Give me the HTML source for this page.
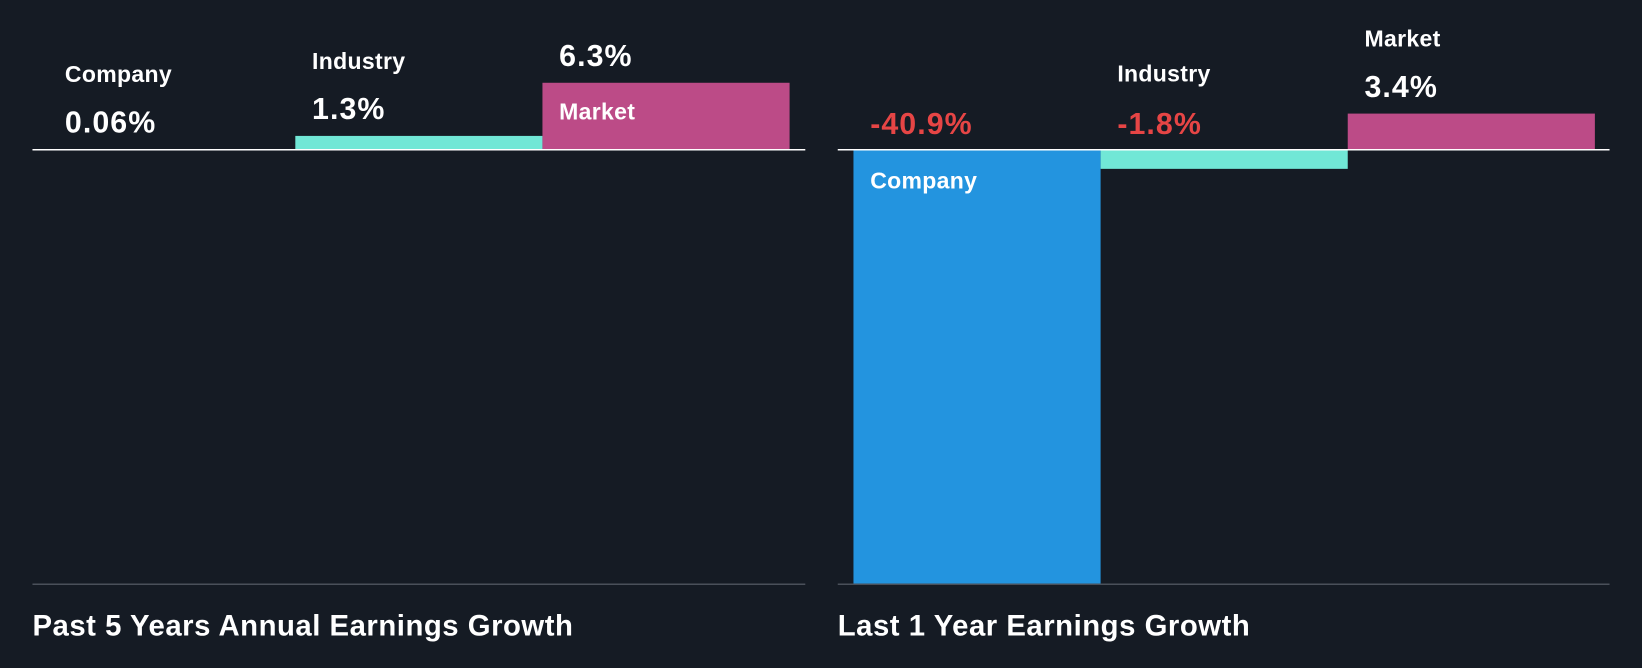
<!DOCTYPE html>
<html><head><meta charset="utf-8"><style>
html,body{margin:0;padding:0;background:#151b24;}
svg{display:block;font-family:"Liberation Sans",Arial,sans-serif;font-weight:bold;}
</style></head><body>
<svg id="chart" width="1642" height="668" viewBox="0 0 1568 638" preserveAspectRatio="none" xmlns="http://www.w3.org/2000/svg">
<rect x="0" y="0" width="1568" height="638" fill="#151b24"/>
</svg>
<script>
const categories = ["Company", "Industry", "Market"];
const past5Values = [0.06, 1.3, 6.3];
const last1Values = [-40.9, -1.8, 3.4];
const panelTitles = ["Past 5 Years Annual Earnings Growth", "Last 1 Year Earnings Growth"];
const colors = ["#2394df", "#71e7d6", "#bc4b87"];
const NS = "http://www.w3.org/2000/svg";
const svg = document.getElementById("chart");
function mk(tag, attrs, txt){const e=document.createElementNS(NS,tag);for(const k in attrs)e.setAttribute(k,attrs[k]);if(txt!==undefined)e.textContent=txt;svg.appendChild(e);return e;}
function fmt(v){return (Math.abs(v)<1&&v!==0?v.toFixed(2):v.toFixed(1))+"%";}
const baseY = 143, bottomY = 558, pxPer = 10.15;
function y(v){return baseY - v*pxPer;}
function drawPanel(pi, x0, x1, barX0, values){
  const barW = 236;
  values.forEach((v,i)=>{
    const bx = barX0 + i*barW;
    const top = Math.min(y(v), baseY), h = Math.max(Math.abs(y(v)-baseY), 1);
    const r = mk("rect",{x:bx,y:top,width:barW,height:h,fill:colors[i]});
    
    
    const tx = bx+16;
    const neg = v<0;
    const vTop = neg ? baseY : y(v);
    const valY = neg ? 128 : vTop-16;
    const val = mk("text",{x:tx,y:valY,fill:neg?"#e64545":"#ffffff","font-size":29,"letter-spacing":1},fmt(v));
    
    
    let labY;
    if(neg && h>60){labY = baseY+37;}
    else if(neg){labY = 78;}
    else if(vTop-63 < 25){labY = vTop+35;}
    else {labY = vTop-64;}
    const lab = mk("text",{x:tx,y:labY,fill:"#ffffff","font-size":22,"letter-spacing":0.3},categories[i]);
    
    
  });
  const zl = mk("line",{x1:x0,x2:x1,y1:baseY,y2:baseY,stroke:"#ffffff","stroke-width":1.5});
  
  
  const bl = mk("line",{x1:x0,x2:x1,y1:bottomY,y2:bottomY,stroke:"#4a505a","stroke-width":1.5});
  
  
  const t = mk("text",{x:x0,y:607,fill:"#ffffff","font-size":28,"letter-spacing":0.5},panelTitles[pi]);
  
  
}
drawPanel(0, 31, 769, 46, past5Values);
drawPanel(1, 800, 1537, 815, last1Values);
</script>
</body></html>
